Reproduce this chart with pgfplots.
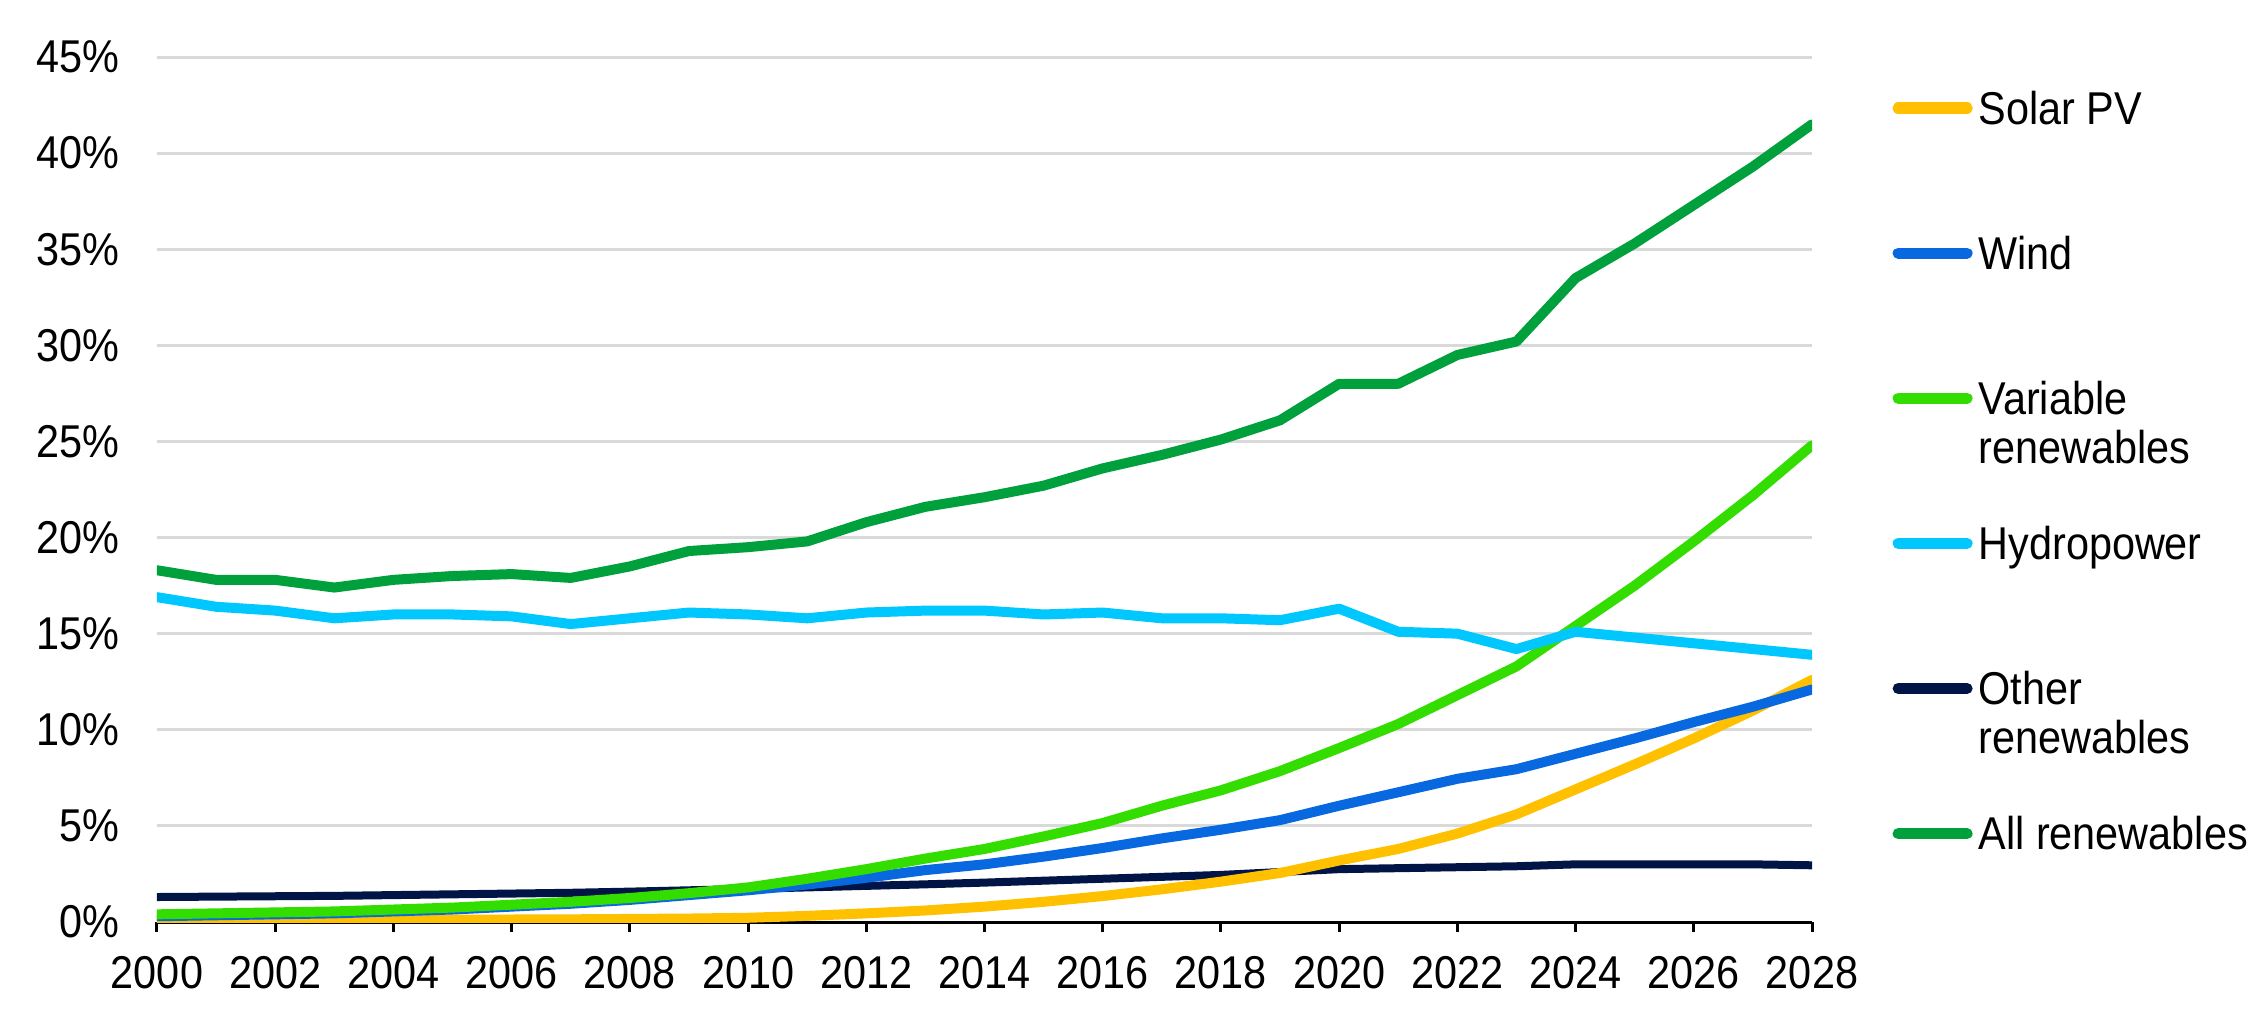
\documentclass[border=0pt]{standalone}
\usepackage{fontspec}
\setmainfont{Liberation Sans}[FakeStretch=0.9]
\usepackage{pgfplots}
\usepackage{pgfplotstable}
\pgfplotsset{compat=1.18}
\definecolor{solar}{HTML}{FFC000}
\definecolor{wind}{HTML}{0868E0}
\definecolor{variable}{HTML}{33DD00}
\definecolor{hydro}{HTML}{00C8FF}
\definecolor{other}{HTML}{001446}
\definecolor{allren}{HTML}{00A03C}
\definecolor{gridgray}{HTML}{D9D9D9}
\pgfplotstableread{
year allr hydro var wind solar other
2000 18.3 16.9 0.40 0.30 0.10 1.30
2001 17.8 16.4 0.45 0.35 0.10 1.32
2002 17.8 16.2 0.50 0.40 0.10 1.34
2003 17.4 15.8 0.55 0.45 0.10 1.36
2004 17.8 16.0 0.65 0.55 0.11 1.40
2005 18.0 16.0 0.75 0.65 0.12 1.44
2006 18.1 15.9 0.90 0.80 0.13 1.48
2007 17.9 15.5 1.05 0.95 0.14 1.52
2008 18.5 15.8 1.25 1.15 0.16 1.58
2009 19.3 16.1 1.50 1.40 0.18 1.65
2010 19.5 16.0 1.80 1.65 0.22 1.72
2011 19.8 15.8 2.25 1.95 0.32 1.80
2012 20.8 16.1 2.75 2.30 0.45 1.88
2013 21.6 16.2 3.30 2.70 0.60 1.96
2014 22.1 16.2 3.80 3.00 0.80 2.05
2015 22.7 16.0 4.45 3.40 1.05 2.15
2016 23.6 16.1 5.15 3.85 1.35 2.25
2017 24.3 15.8 6.05 4.35 1.70 2.35
2018 25.1 15.8 6.85 4.80 2.10 2.45
2019 26.1 15.7 7.85 5.30 2.55 2.60
2020 28.0 16.3 9.05 6.05 3.20 2.75
2021 28.0 15.1 10.3 6.75 3.80 2.80
2022 29.5 15.0 11.8 7.45 4.60 2.85
2023 30.2 14.2 13.3 7.95 5.60 2.90
2024 33.5 15.1 15.4 8.75 6.90 3.00
2025 35.3 14.8 17.5 9.55 8.20 3.00
2026 37.3 14.5 19.8 10.4 9.55 3.00
2027 39.3 14.2 22.2 11.2 11.0 3.00
2028 41.5 13.9 24.8 12.1 12.6 2.95
}\datatable
\begin{document}
\fontsize{11.5pt}{12.25pt}\selectfont
\begin{tikzpicture}
\path[use as bounding box] (-39.25pt,-24.25pt) rectangle (525.5pt,230.5pt);
\begin{axis}[
  at={(0pt,0pt)}, anchor=south west,
  scale only axis, width=413.75pt, height=216.25pt,
  xmin=2000, xmax=2028, ymin=0, ymax=45,
  axis x line*=bottom, axis y line*=left,
  y axis line style={draw=none},
  x axis line style={black, line width=0.75pt},
  xtick={2000,2002,...,2028},
  minor x tick num=1,
  ytick={0,5,...,45},
  yticklabel={\pgfmathprintnumber{\tick}\%},
  /pgf/number format/1000 sep={},
  /pgf/number format/assume math mode=true,
  ymajorgrids, grid style={draw=gridgray, line width=0.75pt},
  major tick length=2.5pt, minor tick length=2.5pt,
  xtick style={draw=black, line width=0.75pt, yshift=-2.5pt},
  minor x tick style={draw=black, line width=0.75pt, yshift=-2.5pt},
  ytick style={draw=none},
  yticklabel style={anchor=east, inner sep=0pt, xshift=-9.25pt},
  xticklabel style={anchor=base, inner sep=0pt, yshift=-16.5pt},
  every axis plot/.append style={line join=round, line cap=round, line width=2.5pt},
  legend style={at={(axis description cs:1.0487,1.033)}, anchor=north west,
    draw=none, fill=none, inner sep=0pt, outer sep=0pt, row sep=10.55pt, column sep=1.5pt,
    nodes={inner sep=0pt, anchor=base west}},
  legend cell align=left,
  legend image code/.code={\draw[line width=2.8pt, line cap=round, #1] (1.4pt,4.1pt) -- (18.6pt,4.1pt);},
]
\addplot[color=other, line width=2pt, forget plot] table[x=year, y=other] {\datatable};
\addplot[color=solar, forget plot] table[x=year, y=solar] {\datatable};
\addplot[color=wind, forget plot] table[x=year, y=wind] {\datatable};
\addplot[color=variable, forget plot] table[x=year, y=var] {\datatable};
\addplot[color=hydro, forget plot] table[x=year, y=hydro] {\datatable};
\addplot[color=allren, forget plot] table[x=year, y=allr] {\datatable};
\addlegendimage{color=solar}
\addlegendentry{\raisebox{0pt}[24pt][12.25pt]{Solar PV}}
\addlegendimage{color=wind}
\addlegendentry{\raisebox{0pt}[24pt][12.25pt]{Wind}}
\addlegendimage{color=variable}
\addlegendentry{\raisebox{0pt}[24pt][12.25pt]{\begin{tabular}[t]{@{}l@{}}Variable\\renewables\end{tabular}}}
\addlegendimage{color=hydro}
\addlegendentry{\raisebox{0pt}[24pt][12.25pt]{Hydropower}}
\addlegendimage{color=other, line width=1.9pt}
\addlegendentry{\raisebox{0pt}[24pt][12.25pt]{\begin{tabular}[t]{@{}l@{}}Other\\renewables\end{tabular}}}
\addlegendimage{color=allren}
\addlegendentry{\raisebox{0pt}[24pt][12.25pt]{All renewables}}
\end{axis}
\end{tikzpicture}
\end{document}
